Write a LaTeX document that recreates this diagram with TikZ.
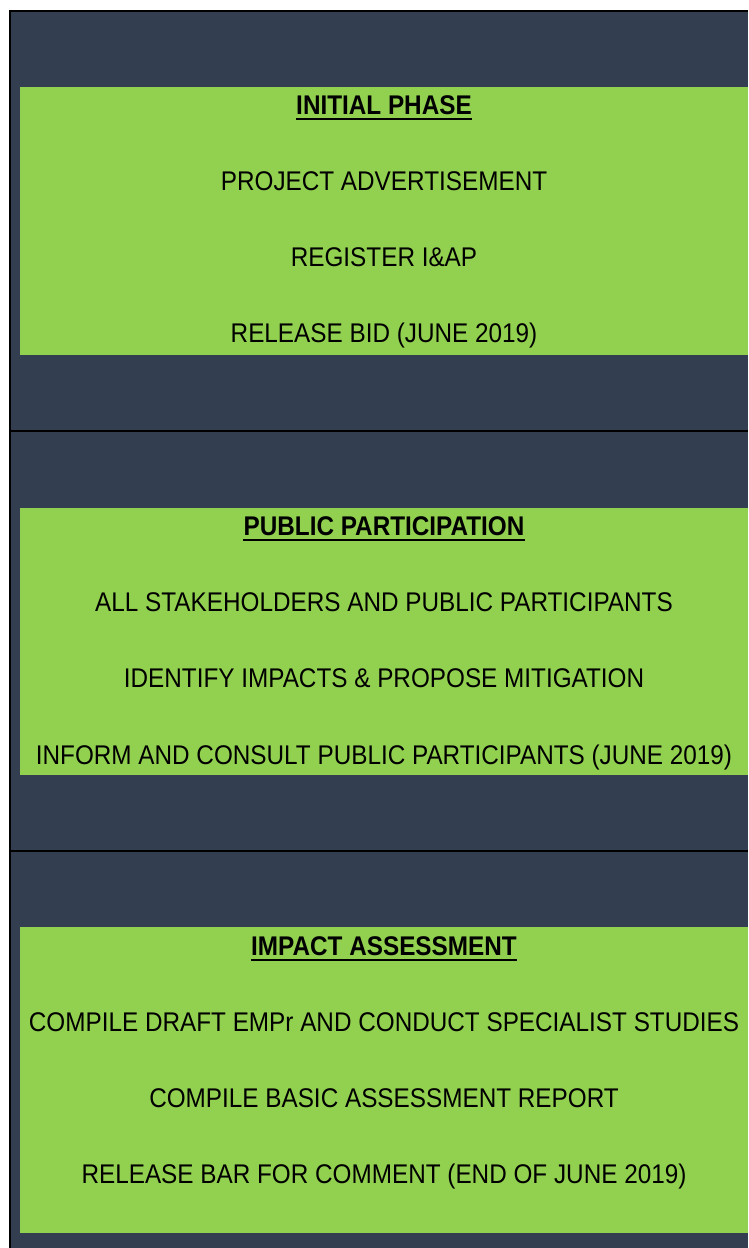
\documentclass[tikz,border=0pt]{standalone}
\usepackage{fontspec}
\setmainfont{Liberation Sans}[FakeStretch=0.9]
\usepackage{tikz}
\definecolor{panel}{HTML}{333F50}
\definecolor{leaf}{HTML}{92D050}

\begin{document}
\begin{tikzpicture}[x=1pt,y=-1pt,
    item/.style={anchor=base,inner sep=0pt,font=\fontsize{27}{32}\selectfont},
    head/.style={item,font=\fontsize{27}{32}\selectfont\bfseries},
    stage/.style={fill=leaf},
    rule/.style={line width=2pt}]
    \useasboundingbox (0,0) rectangle (748,1248);
    \fill[panel] (10,11) rectangle (748,1248);
    \draw[rule] (10,1248) -- (10,11) -- (748,11);
    \draw[rule] (10,431) -- (748,431);
    \draw[rule] (10,851) -- (748,851);

    % three stages
    \fill[stage] (20,87)  rectangle (748,355);
    \fill[stage] (20,508) rectangle (748,775);
    \fill[stage] (20,927) rectangle (748,1233);

    \node[head] (H1) at (384, 114) {INITIAL PHASE};
    \node[item] (A1) at (384, 190) {PROJECT ADVERTISEMENT};
    \node[item] (A2) at (384, 266) {REGISTER I\&AP};
    \node[item] (A3) at (384, 342) {RELEASE BID (JUNE 2019)};

    \node[head] (H2) at (384, 535) {PUBLIC PARTICIPATION};
    \node[item] (B1) at (384, 611) {ALL STAKEHOLDERS AND PUBLIC PARTICIPANTS};
    \node[item] (B2) at (384, 687) {IDENTIFY IMPACTS \& PROPOSE MITIGATION};
    \node[item] (B3) at (384, 764) {INFORM AND CONSULT PUBLIC PARTICIPANTS (JUNE 2019)};

    \node[head] (H3) at (384, 955) {IMPACT ASSESSMENT};
    \node[item] (C1) at (384,1031) {COMPILE DRAFT EMPr AND CONDUCT SPECIALIST STUDIES};
    \node[item] (C2) at (384,1107) {COMPILE BASIC ASSESSMENT REPORT};
    \node[item] (C3) at (384,1183) {RELEASE BAR FOR COMMENT (END OF JUNE 2019)};

    \foreach \h in {H1,H2,H3}
      \draw[line width=2.5pt] ([yshift=-5pt]\h.base west) -- ([yshift=-5pt]\h.base east);
\end{tikzpicture}
\end{document}
